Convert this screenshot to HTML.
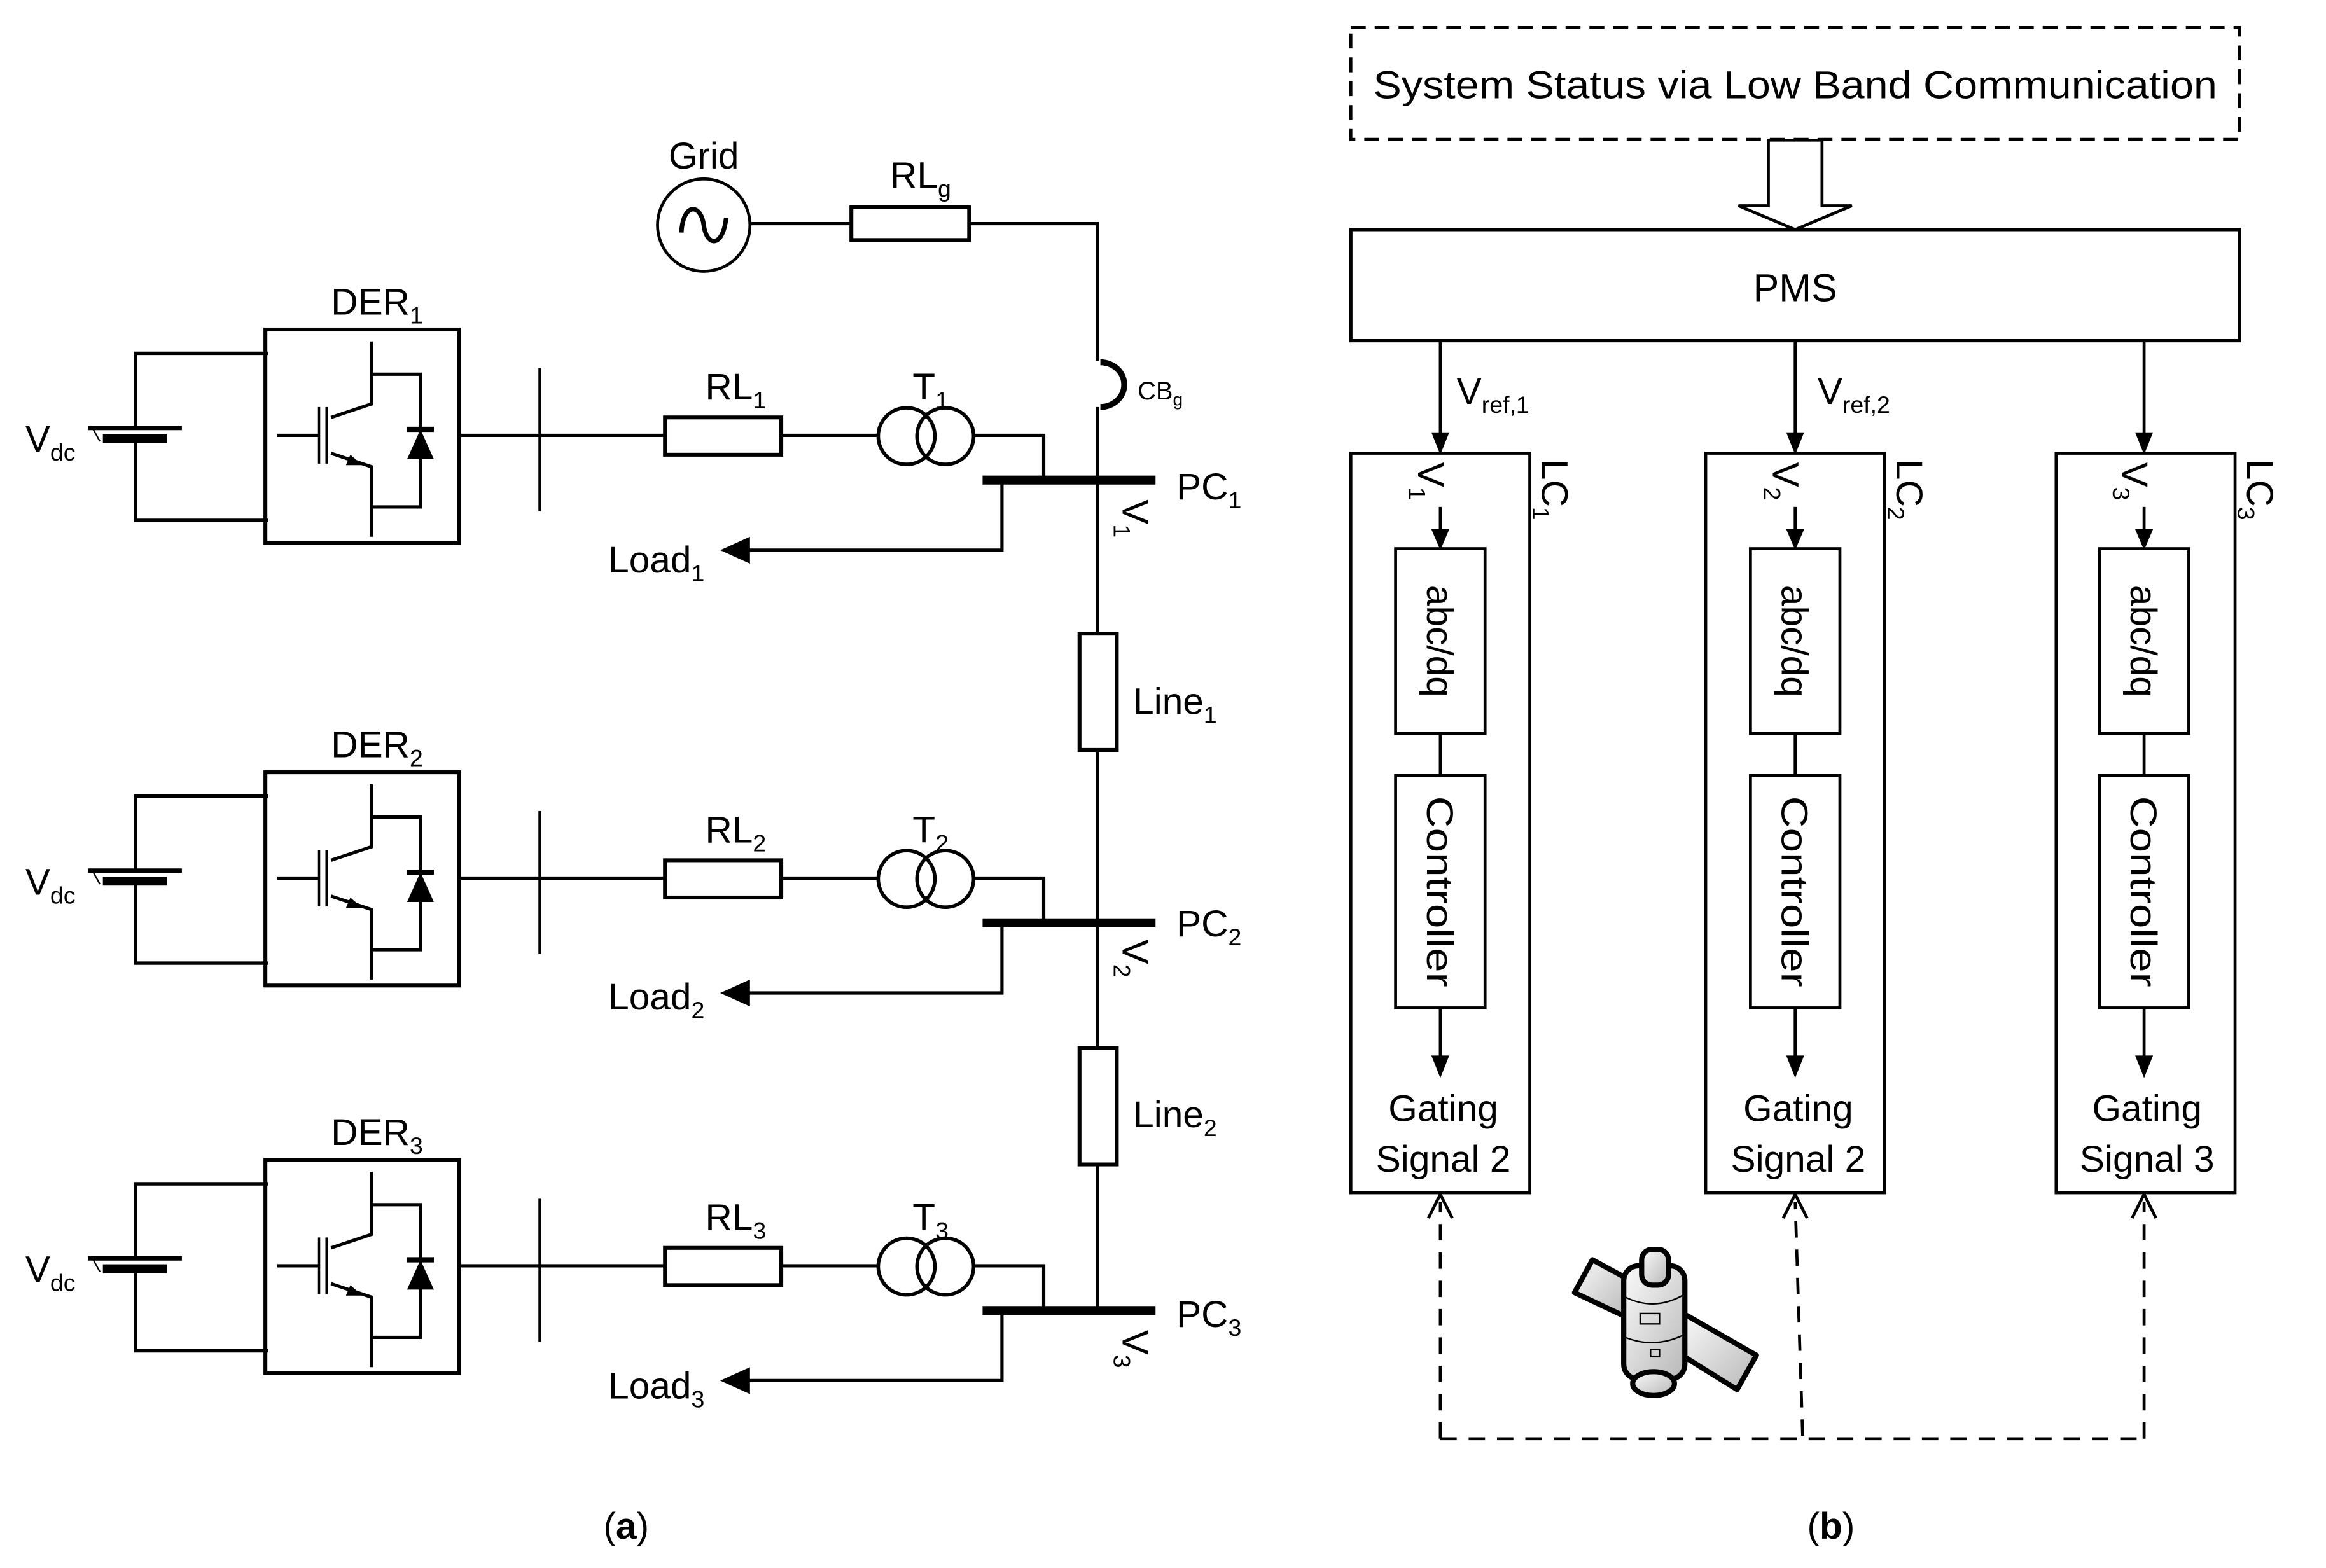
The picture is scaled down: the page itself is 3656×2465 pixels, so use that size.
<!DOCTYPE html>
<html><head><meta charset="utf-8"><style>
html,body{margin:0;padding:0;background:#fff;}
svg{display:block;}
text{font-family:"Liberation Sans",sans-serif;fill:#000;}
</style></head><body>
<svg width="3656" height="2465" viewBox="0 0 1560 1051.7" preserveAspectRatio="none" xmlns="http://www.w3.org/2000/svg">
<defs>
<linearGradient id="gr" x1="0" y1="0" x2="1" y2="1"><stop offset="0" stop-color="#fafafa"/><stop offset="1" stop-color="#b8b8b8"/></linearGradient>
<g id="row">
  <path d="M180 237 H91 V287 M91 296 V349 H180" fill="none" stroke="#000" stroke-width="2.3"/>
  <line x1="59" y1="287" x2="122" y2="287" stroke="#000" stroke-width="3"/>
  <rect x="69" y="291" width="43" height="6" fill="#000"/>
  <line x1="62" y1="287" x2="67" y2="296" stroke="#000" stroke-width="1"/>
  <rect x="178" y="221" width="130" height="143" fill="none" stroke="#000" stroke-width="2.6"/>
  <path d="M249 229 V251 H282 V340 H249 M249 251 V271 L222 280 M222 304 L249 313 V360" fill="none" stroke="#000" stroke-width="2.2"/>
  <line x1="214" y1="273" x2="214" y2="311" stroke="#000" stroke-width="1.5"/>
  <line x1="219" y1="273" x2="219" y2="311" stroke="#000" stroke-width="1.5"/>
  <line x1="186" y1="292" x2="214" y2="292" stroke="#000" stroke-width="2.2"/>
  <polygon points="243,312 235,305 232,312" fill="#000"/>
  <polygon points="273,308 291,308 282,288" fill="#000"/>
  <line x1="273" y1="288" x2="291" y2="288" stroke="#000" stroke-width="3.5"/>
  <path d="M308 292 H446 M524 292 H589 M653 292 H700 V322" fill="none" stroke="#000" stroke-width="2.2"/>
  <rect x="446" y="280" width="78" height="25" fill="none" stroke="#000" stroke-width="2.6"/>
  <circle cx="608" cy="292.5" r="19" fill="none" stroke="#000" stroke-width="2.4"/>
  <circle cx="634" cy="292.5" r="19" fill="none" stroke="#000" stroke-width="2.4"/>
  <line x1="362" y1="247" x2="362" y2="343" stroke="#000" stroke-width="1.8"/>
  <line x1="659" y1="322" x2="775" y2="322" stroke="#000" stroke-width="6"/>
  <path d="M672 322 V369 H500" fill="none" stroke="#000" stroke-width="2.2"/>
  <polygon points="483,369 503,360 503,378" fill="#000"/>
</g>
</defs>

<use href="#row"/>
<use href="#row" transform="translate(0,297)"/>
<use href="#row" transform="translate(0,557)"/>

<circle cx="472" cy="151" r="31" fill="none" stroke="#000" stroke-width="2"/>
<path d="M457 156 C458 136 470 136 472 151 C474 166 485 166 487 146" fill="none" stroke="#000" stroke-width="3"/>
<text x="472" y="113" font-size="25" text-anchor="middle">Grid</text>
<path d="M503 150 H571 M650 150 H736 V242 M736 273 V879" fill="none" stroke="#000" stroke-width="2.2"/>
<rect x="571" y="139" width="79" height="22" fill="none" stroke="#000" stroke-width="2.6"/>
<text x="597" y="126" font-size="25">RL<tspan font-size="16" dy="6">g</tspan></text>
<path d="M738 243 A16 15 0 0 1 738 273" fill="none" stroke="#000" stroke-width="4"/>
<text x="763" y="268" font-size="17">CB<tspan font-size="12" dy="4">g</tspan></text>

<rect x="724" y="425" width="25" height="78" fill="#fff" stroke="#000" stroke-width="2.6"/>
<rect x="724" y="703" width="25" height="78" fill="#fff" stroke="#000" stroke-width="2.6"/>
<text x="760" y="479" font-size="25">Line<tspan font-size="16" dy="6">1</tspan></text>
<text x="760" y="756" font-size="25">Line<tspan font-size="16" dy="6">2</tspan></text>

<g font-size="25">
<text x="222" y="211">DER<tspan font-size="16" dy="6">1</tspan></text>
<text x="222" y="508">DER<tspan font-size="16" dy="6">2</tspan></text>
<text x="222" y="768">DER<tspan font-size="16" dy="6">3</tspan></text>
<text x="17" y="303">V<tspan font-size="16" dy="6">dc</tspan></text>
<text x="17" y="600">V<tspan font-size="16" dy="6">dc</tspan></text>
<text x="17" y="860">V<tspan font-size="16" dy="6">dc</tspan></text>
<text x="473" y="268">RL<tspan font-size="16" dy="6">1</tspan></text>
<text x="473" y="565">RL<tspan font-size="16" dy="6">2</tspan></text>
<text x="473" y="825">RL<tspan font-size="16" dy="6">3</tspan></text>
<text x="612" y="268">T<tspan font-size="16" dy="6">1</tspan></text>
<text x="612" y="565">T<tspan font-size="16" dy="6">2</tspan></text>
<text x="612" y="825">T<tspan font-size="16" dy="6">3</tspan></text>
<text x="408" y="384">Load<tspan font-size="16" dy="6">1</tspan></text>
<text x="408" y="677">Load<tspan font-size="16" dy="6">2</tspan></text>
<text x="408" y="938">Load<tspan font-size="16" dy="6">3</tspan></text>
<text x="789" y="335">PC<tspan font-size="16" dy="6">1</tspan></text>
<text x="789" y="628">PC<tspan font-size="16" dy="6">2</tspan></text>
<text x="789" y="890">PC<tspan font-size="16" dy="6">3</tspan></text>
<text transform="translate(753,335) rotate(90)">V<tspan font-size="16" dy="6">1</tspan></text>
<text transform="translate(753,630) rotate(90)">V<tspan font-size="16" dy="6">2</tspan></text>
<text transform="translate(753,892) rotate(90)">V<tspan font-size="16" dy="6">3</tspan></text>
</g>
<text x="420" y="1032" font-size="25" text-anchor="middle" font-family="Liberation Serif">(<tspan font-weight="bold">a</tspan>)</text>
<text x="1228" y="1032" font-size="25" text-anchor="middle" font-family="Liberation Serif">(<tspan font-weight="bold">b</tspan>)</text>

<!-- RIGHT PANEL -->
<rect x="906" y="18.5" width="596" height="75" fill="none" stroke="#000" stroke-width="2" stroke-dasharray="10,6"/>
<text x="921" y="66" font-size="26" textLength="566" lengthAdjust="spacingAndGlyphs">System Status via Low Band Communication</text>
<polygon points="1186,94 1222,94 1222,138 1242,138 1204,154 1166,138 1186,138" fill="#fff" stroke="#000" stroke-width="2"/>
<rect x="906" y="154" width="596" height="74.5" fill="none" stroke="#000" stroke-width="2.2"/>
<text x="1204" y="202" font-size="26" text-anchor="middle">PMS</text>

<g stroke="#000" stroke-width="2" fill="none">
<path d="M966 228 V292 M1204 228 V292 M1438 228 V292"/>
<rect x="906" y="304" width="120" height="496"/>
<rect x="1144" y="304" width="120" height="496"/>
<rect x="1379" y="304" width="120" height="496"/>
<rect x="936" y="368" width="60" height="124"/>
<rect x="1174" y="368" width="60" height="124"/>
<rect x="1408" y="368" width="60" height="124"/>
<rect x="936" y="520" width="60" height="156"/>
<rect x="1174" y="520" width="60" height="156"/>
<rect x="1408" y="520" width="60" height="156"/>
<path d="M966 340 V356 M1204 340 V356 M1438 340 V356"/>
<path d="M966 492 V520 M1204 492 V520 M1438 492 V520"/>
<path d="M966 676 V710 M1204 676 V710 M1438 676 V710"/>
</g>
<g fill="#000">
<polygon points="960,290 972,290 966,305"/>
<polygon points="1198,290 1210,290 1204,305"/>
<polygon points="1432,290 1444,290 1438,305"/>
<polygon points="960,355 972,355 966,369"/>
<polygon points="1198,355 1210,355 1204,369"/>
<polygon points="1432,355 1444,355 1438,369"/>
<polygon points="960,708 972,708 966,723"/>
<polygon points="1198,708 1210,708 1204,723"/>
<polygon points="1432,708 1444,708 1438,723"/>
</g>
<g font-size="25">
<text x="977" y="271">V<tspan font-size="16" dy="6">ref,1</tspan></text>
<text x="1219" y="271">V<tspan font-size="16" dy="6">ref,2</tspan></text>
<text transform="translate(951,310) rotate(90)">V<tspan font-size="16" dy="6">1</tspan></text>
<text transform="translate(1189,310) rotate(90)">V<tspan font-size="16" dy="6">2</tspan></text>
<text transform="translate(1423,310) rotate(90)">V<tspan font-size="16" dy="6">3</tspan></text>
<text transform="translate(1034,308) rotate(90)">LC<tspan font-size="16" dy="6">1</tspan></text>
<text transform="translate(1272,308) rotate(90)">LC<tspan font-size="16" dy="6">2</tspan></text>
<text transform="translate(1507,308) rotate(90)">LC<tspan font-size="16" dy="6">3</tspan></text>
<text transform="translate(957,430) rotate(90)" text-anchor="middle">abc/dq</text>
<text transform="translate(1195,430) rotate(90)" text-anchor="middle">abc/dq</text>
<text transform="translate(1429,430) rotate(90)" text-anchor="middle">abc/dq</text>
<text transform="translate(957,598) rotate(90)" text-anchor="middle" textLength="128" lengthAdjust="spacingAndGlyphs">Controller</text>
<text transform="translate(1195,598) rotate(90)" text-anchor="middle" textLength="128" lengthAdjust="spacingAndGlyphs">Controller</text>
<text transform="translate(1429,598) rotate(90)" text-anchor="middle" textLength="128" lengthAdjust="spacingAndGlyphs">Controller</text>
<text x="968" y="752" text-anchor="middle">Gating</text>
<text x="968" y="786" text-anchor="middle">Signal 2</text>
<text x="1206" y="752" text-anchor="middle">Gating</text>
<text x="1206" y="786" text-anchor="middle">Signal 2</text>
<text x="1440" y="752" text-anchor="middle">Gating</text>
<text x="1440" y="786" text-anchor="middle">Signal 3</text>
</g>

<g stroke="#000" stroke-width="2" fill="none">
<path d="M966 965 V806 M1438 965 V806 M966 965 H1438 M1209 963 L1204 806" stroke-dasharray="11,8"/>
<path d="M958 817 L966 801 L974 817 M1430 817 L1438 801 L1446 817 M1196 817 L1204 801 L1212 817"/>
</g>

<g stroke="#000" stroke-width="3.5" stroke-linejoin="round" fill="url(#gr)">
<polygon points="1056,867 1068,845 1092,858 1092,884"/>
<polygon points="1129,881 1178,909 1165,932 1128,909"/>
<rect x="1089" y="849" width="41" height="76" rx="10"/>
<ellipse cx="1109" cy="928" rx="14" ry="8"/>
<rect x="1101" y="838" width="18" height="24" rx="7"/>
</g>
<g stroke="#000" stroke-width="1" fill="none">
<path d="M1090 870 Q1110 880 1130 868 M1090 897 Q1110 905 1130 895"/>
<rect x="1100" y="881" width="13" height="7"/>
<rect x="1107" y="905" width="6" height="5"/>
</g>
</svg>
</body></html>
